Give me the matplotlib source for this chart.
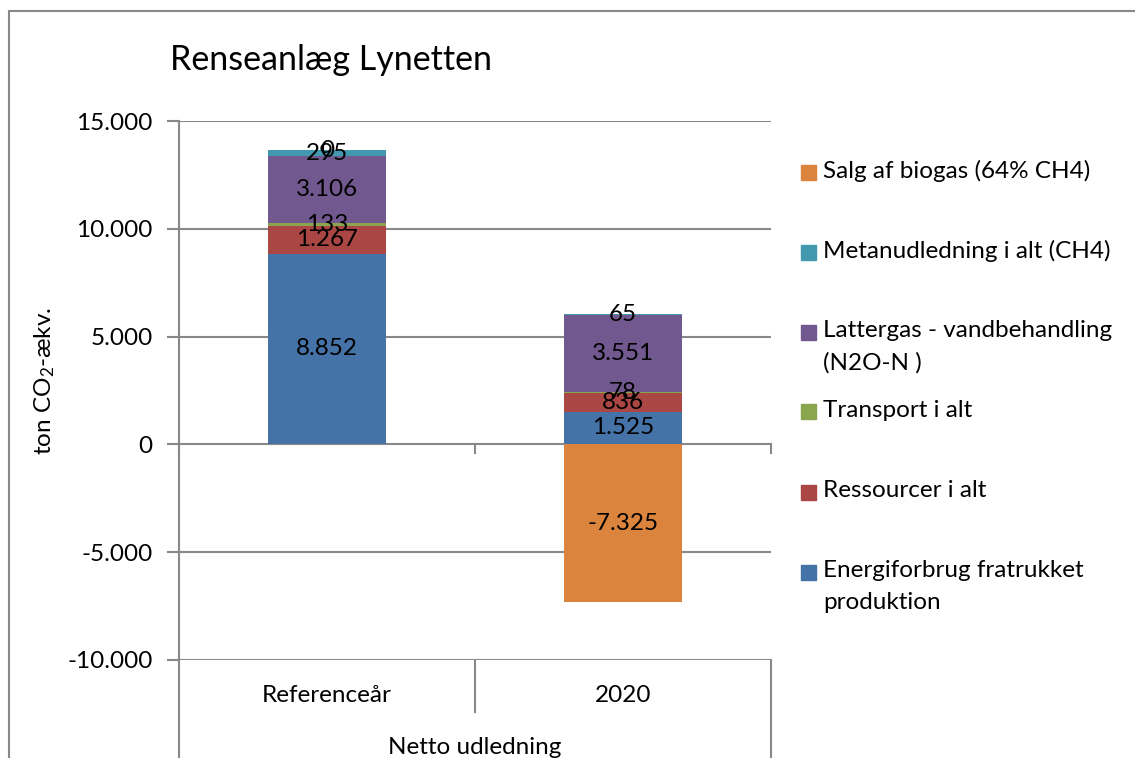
"""Renseanlæg Lynetten: netto udledning (stacked bars, Excel-style look)."""
import matplotlib
matplotlib.use("Agg")
import matplotlib.pyplot as plt
from matplotlib.patches import Rectangle
from matplotlib.lines import Line2D
from matplotlib.ticker import FuncFormatter

plt.rcParams["font.family"] = ["Lato", "DejaVu Sans"]
plt.rcParams["mathtext.fontset"] = "custom"
plt.rcParams["mathtext.rm"] = "Lato"
plt.rcParams["mathtext.it"] = "Lato:italic"

categories = ["Referenceår", "2020"]
group_label = "Netto udledning"
title = "Renseanlæg Lynetten"

# stacking order, bottom to top
series_names = ["Energiforbrug fratrukket\nproduktion", "Ressourcer i alt",
                "Transport i alt", "Lattergas - vandbehandling\n(N2O-N )",
                "Metanudledning i alt (CH4)", "Salg af biogas (64% CH4)"]
energi = [8852, 1525]
ressourcer = [1267, 836]
transport = [133, 78]
lattergas = [3106, 3551]
metan = [295, 65]
biogas = [0, -7325]
series = [energi, ressourcer, transport, lattergas, metan, biogas]
colors = ["#4572A7", "#AA4643", "#89A54E", "#71588F", "#4198AF", "#DB843D"]

yticks = [-10000, -5000, 0, 5000, 10000, 15000]
GRID = "#888888"
FS = 17.5


def dk(v, pos=None):
    return f"{int(v):,}".replace(",", ".")


W, H = 1135, 758
fig = plt.figure(figsize=(W / 100, H / 100), dpi=100)
ax = fig.add_axes([179 / W, 1 - 660 / H, (771 - 179) / W, (660 - 121) / H])

x = range(len(categories))
pos_base = [0.0] * len(categories)
neg_base = [0.0] * len(categories)
for vals, c in zip(series, colors):
    bottoms = []
    for i, v in enumerate(vals):
        if v >= 0:
            bottoms.append(pos_base[i]); pos_base[i] += v
        else:
            bottoms.append(neg_base[i]); neg_base[i] += v
    ax.bar(x, vals, 0.4, bottom=bottoms, color=c, zorder=3)
    for i, (v, b) in enumerate(zip(vals, bottoms)):
        ax.text(i, b + v / 2, dk(v), ha="center", va="center", fontsize=FS,
                color="black", zorder=4)

ax.set_xlim(-0.5, len(categories) - 0.5)
ax.set_ylim(yticks[0], yticks[-1])
ax.set_yticks(yticks)
ax.yaxis.set_major_formatter(FuncFormatter(dk))
ax.tick_params(axis="y", length=9, width=1.5, color=GRID, pad=10, labelsize=FS)
ax.set_xticks([])
ax.grid(axis="y", color=GRID, lw=1.5, zorder=0)
for s in ["top", "right", "bottom"]:
    ax.spines[s].set_visible(False)
ax.spines["left"].set_color(GRID)
ax.spines["left"].set_linewidth(1.5)
ax.set_ylabel("ton CO$_2$-ækv.", fontsize=FS, va="center")
ax.yaxis.set_label_coords((45 - 179) / 592, (660 - 381) / 539)

# x axis at zero with ticks at category boundaries
tr = ax.get_xaxis_transform()
yz = ax.transAxes.inverted().transform(ax.transData.transform((0, 0)))[1]
for b in [0.5 * k - 0.5 for k in range(0, 2 * len(categories) + 1, 2)]:
    ax.add_line(Line2D([b, b], [yz, yz - 9 / 539], transform=tr, color=GRID,
                       lw=1.5, clip_on=False))

# category label table below the plot area
for b in [-0.5, len(categories) - 0.5]:
    ax.add_line(Line2D([b, b], [0, -0.19], transform=tr, color=GRID, lw=1.5,
                       clip_on=False))
for b in [k + 0.5 for k in range(len(categories) - 1)]:
    ax.add_line(Line2D([b, b], [0, -52 / 539], transform=tr, color=GRID, lw=1.5,
                       clip_on=False))
for i, c in enumerate(categories):
    ax.text(i, -35 / 539, c, transform=tr, ha="center", va="center", fontsize=FS)
ax.text((len(categories) - 1) / 2, -87 / 539, group_label, transform=tr,
        ha="center", va="center", fontsize=FS)

fig.text(170 / W, 1 - 60 / H, title, ha="left", va="center", fontsize=24.5)

# legend, top entry = last series
for k, (name, c) in enumerate(zip(series_names[::-1], colors[::-1])):
    yc = 172 + 80 * k
    fig.patches.append(Rectangle((801 / W, 1 - (yc + 7.5) / H), 15 / W, 15 / H,
                                 transform=fig.transFigure, color=c))
    fig.text(823 / W, 1 - (yc - 12) / H, name, ha="left", va="top",
             fontsize=FS, linespacing=1.65)

# chart frame (cropped on right and bottom)
fig.patches.append(Rectangle((9 / W, -0.1), 1.2, 1 - 11 / H + 0.1,
                             transform=fig.transFigure, fill=False,
                             edgecolor=GRID, lw=1.5))

fig.savefig("out.png", dpi=100)
